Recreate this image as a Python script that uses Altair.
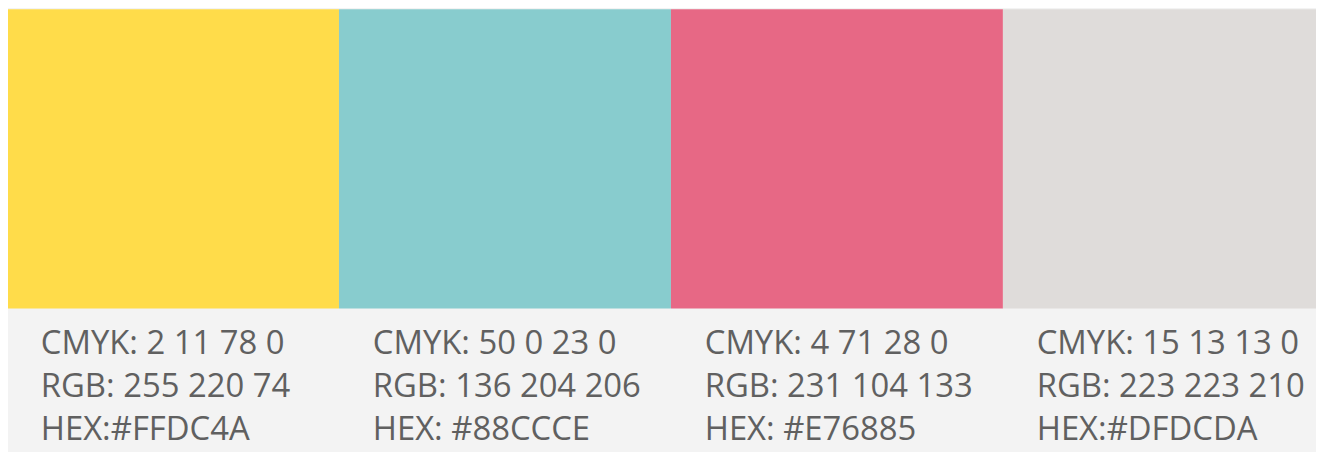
import altair as alt
import pandas as pd

hex_codes = ["#FFDC4A", "#88CCCE", "#E76885", "#DFDCDA"]
cmyk_labels = ["CMYK: 2 11 78 0", "CMYK: 50 0 23 0", "CMYK: 4 71 28 0", "CMYK: 15 13 13 0"]
rgb_labels = ["RGB: 255 220 74", "RGB: 136 204 206", "RGB: 231 104 133", "RGB: 223 223 210"]
hex_labels = ["HEX:#FFDC4A", "HEX: #88CCCE", "HEX: #E76885", "HEX:#DFDCDA"]

df = pd.DataFrame({
    "swatch": hex_codes,
    "label": [f"{c}\n{r}\n{h}" for c, r, h in zip(cmyk_labels, rgb_labels, hex_labels)],
})

xscale = alt.Scale(domain=hex_codes, range=[-1, 1335], paddingInner=0, paddingOuter=0)

rects = alt.Chart(df).mark_rect().encode(
    x=alt.X("swatch:N", scale=xscale, axis=None, sort=hex_codes),
    y=alt.value(0),
    y2=alt.value(301),
    color=alt.Color("swatch:N", scale=None, legend=None),
)

text = alt.Chart(df).mark_text(
    align="left", baseline="alphabetic", dx=34,
    font="Open Sans", fontSize=33, color="#606060",
    lineBreak="\n", lineHeight=43,
).encode(
    x=alt.X("swatch:N", scale=xscale, axis=None, sort=hex_codes, bandPosition=0),
    y=alt.value(347),
    text="label:N",
)

chart = alt.layer(rects, text).properties(
    width=1316, height=444, background="#F3F3F3", padding=0, autosize="none"
).configure_view(stroke=None)

chart.save("out.html", embed_options={"renderer": "svg", "actions": False})
